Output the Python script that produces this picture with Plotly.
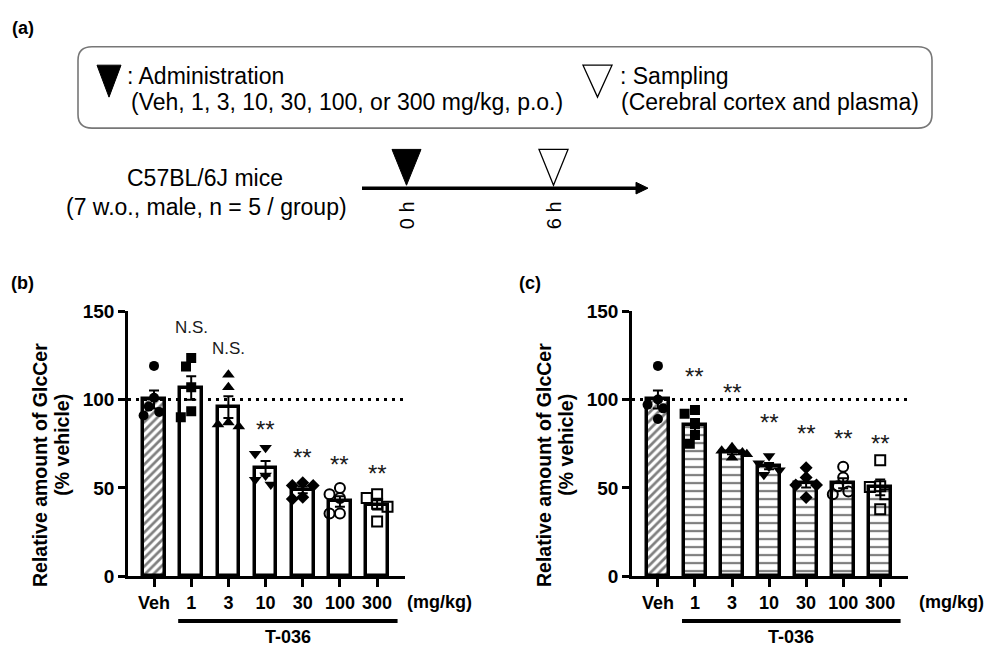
import numpy as np
import plotly.graph_objects as go

# ---------------- data ----------------
doses = ["Veh", "1", "3", "10", "30", "100", "300"]
b_values = [
    [119, 101, 96, 93, 91],
    [123.5, 118.6, 107, 90, 93.4],
    [114, 107, 84.7, 87, 85.8],
    [69.4, 72.7, 51.9, 54.6, 57],
    [51.4, 53, 51.4, 43.7, 44.8],
    [50, 46.4, 44.3, 35.5, 35.5],
    [46.4, 44.3, 41, 39.3, 31],
]
c_values = [
    [119, 100, 97, 95, 89],
    [94, 92, 86, 80, 75],
    [73, 71, 70, 69, 67],
    [68, 64, 62, 60, 57.5],
    [61.4, 55.9, 51.6, 51.6, 44.6],
    [62, 55.9, 51, 48, 46.4],
    [65.6, 51, 50.5, 46.4, 38],
]
b_labels = ["", "N.S.", "N.S.", "**", "**", "**", "**"]
c_labels = ["", "**", "**", "**", "**", "**", "**"]
b_label_y = [0, 141, 129, 83, 67, 63, 58]
c_label_y = [0, 113, 104, 87, 81, 78, 75]
symbols = ["circle", "square", "triangle-up", "triangle-down", "diamond",
           "circle-open", "square-open"]

W, H = 985, 659
FONT = "Liberation Sans, Arial, sans-serif"


def px(x):
    return x / W


def py(y):
    return 1 - y / H


def swarm(vals, xu=37.2, yu=1.83, d=9.5):
    vals = list(vals)
    order = np.argsort(-np.array(vals))
    placed, offs = [], [0.0] * len(vals)
    cands = [0, -0.14, 0.14, -0.28, 0.28, -0.4, 0.4]
    for i in order:
        chosen = cands[-1]
        for c in cands:
            if all(((c - pc) * xu) ** 2 + ((vals[i] - pv) * yu) ** 2 >= d * d
                   for pc, pv in placed):
                chosen = c
                break
        offs[i] = chosen
        placed.append((chosen, vals[i]))
    return offs


fig = go.Figure()

panels = [
    ("x", "y", b_values, b_labels, b_label_y, ["/"] + [""] * 6),
    ("x2", "y2", c_values, c_labels, c_label_y, ["/"] + ["-"] * 6),
]

for xa, ya, vals, labels, label_y, shapes in panels:
    means = [float(np.mean(v)) for v in vals]
    sems = [float(np.std(v, ddof=1) / np.sqrt(len(v))) for v in vals]
    fig.add_trace(go.Bar(
        x=list(range(len(doses))), y=means, width=0.58,
        marker=dict(color="white", line=dict(color="black", width=3.5),
                    pattern=dict(shape=shapes, fgcolor="black", bgcolor="white",
                                 size=[6] + [8] * 6, solidity=[0.45] + [0.28] * 6,
                                 fillmode="overlay")),
        error_y=dict(type="data", array=sems, color="black", thickness=2, width=5),
        xaxis=xa, yaxis=ya, showlegend=False, hoverinfo="skip"))
    for i, v in enumerate(vals):
        offs = swarm(v)
        sym = symbols[i]
        is_open = sym.endswith("open")
        fig.add_trace(go.Scatter(
            x=[i + o for o in offs], y=v, mode="markers",
            marker=dict(symbol=sym, size=10 if "triangle" not in sym else 11,
                        color="black",
                        line=dict(color="black", width=2 if is_open else 0)),
            xaxis=xa, yaxis=ya, showlegend=False, hoverinfo="skip"))
    for i, lab in enumerate(labels):
        if lab:
            fig.add_annotation(x=i, y=label_y[i], xref=xa, yref=ya, text=lab,
                               showarrow=False, yanchor="middle",
                               font=dict(family=FONT, size=24 if lab == "**" else 17,
                                         color="#1a1a1a"))
    # dotted reference at 100
    fig.add_shape(type="line", xref=xa, yref=ya, x0=-0.7, x1=6.8, y0=100, y1=100,
                  line=dict(color="black", width=3, dash="3px,5px"))
    # T-036 bracket line
    fig.add_shape(type="line", xref=xa, yref="paper", x0=0.65, x1=6.55,
                  y0=py(631), y1=py(631), line=dict(color="black", width=4))
    fig.add_annotation(x=3.6, y=py(648), xref=xa, yref="paper", text="T-036",
                       showarrow=False, yanchor="middle",
                       font=dict(family=FONT, size=18, color="black", weight="bold"))

axis_common = dict(showgrid=False, zeroline=False, showline=True, linecolor="black",
                   linewidth=2.5, ticks="outside", tickcolor="black", tickwidth=2.5)

for name, dom in (("xaxis", [px(128), px(405)]), ("xaxis2", [px(632), px(908)])):
    fig.layout[name] = dict(axis_common, domain=dom, range=[-0.7, 6.75],
                            tickvals=list(range(len(doses))), ticktext=doses,
                            ticklen=8,
                            tickfont=dict(family=FONT, size=18, color="black",
                                          weight="bold"),
                            anchor="y" if name == "xaxis" else "y2")
for name in ("yaxis", "yaxis2"):
    fig.layout[name] = dict(axis_common, domain=[py(585), py(311)], range=[0, 150],
                            tickvals=[0, 50, 100, 150], ticklen=7,
                            tickfont=dict(family=FONT, size=19, color="black",
                                          weight="bold"),
                            anchor="x" if name == "yaxis" else "x2")

# paper annotations
def ann(x, y, text, size=23, bold=False, xanchor="center", angle=0):
    fig.add_annotation(x=px(x), y=py(y), xref="paper", yref="paper", text=text,
                       showarrow=False, xanchor=xanchor, yanchor="middle",
                       textangle=angle,
                       font=dict(family=FONT, size=size, color="black",
                                 weight="bold" if bold else "normal"))

ann(439, 612, "(mg/kg)", size=18, bold=True)
ann(951, 612, "(mg/kg)", size=18, bold=True)
ann(23, 19, "(a)", size=18, bold=True)
ann(22, 282, "(b)", size=18, bold=True)
ann(530, 282, "(c)", size=18, bold=True)
for x0 in (0, 504):
    ann(40 + x0, 470, "Relative amount of GlcCer", size=19.5, bold=True, angle=-90)
    ann(62 + x0, 449, "(% vehicle)", size=19.5, bold=True, angle=-90)

# ---------------- panel (a) schematic ----------------
def rrect(x0, y0, x1, y1, r):
    rx, ry = r / W, r / H
    X0, X1, Y0, Y1 = px(x0), px(x1), py(y0), py(y1)
    return (f"M {X0+rx},{Y0} L {X1-rx},{Y0} Q {X1},{Y0} {X1},{Y0-ry} "
            f"L {X1},{Y1+ry} Q {X1},{Y1} {X1-rx},{Y1} L {X0+rx},{Y1} "
            f"Q {X0},{Y1} {X0},{Y1+ry} L {X0},{Y0-ry} Q {X0},{Y0} {X0+rx},{Y0} Z")


def tri(x0, x1, ytop, ybot):
    return (f"M {px(x0)},{py(ytop)} L {px(x1)},{py(ytop)} "
            f"L {px((x0+x1)/2)},{py(ybot)} Z")

fig.add_shape(type="path", xref="paper", yref="paper", path=rrect(78, 38, 932, 122, 14),
              line=dict(color="#777", width=1.6), fillcolor="rgba(0,0,0,0)")
fig.add_shape(type="path", xref="paper", yref="paper", path=tri(97, 121, 57, 90),
              line=dict(color="black", width=1), fillcolor="black")
fig.add_shape(type="path", xref="paper", yref="paper", path=tri(583, 612, 57, 90),
              line=dict(color="black", width=1.3), fillcolor="white")
ann(125, 68, ": Administration", xanchor="left")
ann(129, 95, "(Veh, 1, 3, 10, 30, 100, or 300 mg/kg, p.o.)", xanchor="left")
ann(618, 68, ": Sampling", xanchor="left")
ann(619, 95, "(Cerebral cortex and plasma)", xanchor="left")

# timeline
fig.add_shape(type="line", xref="paper", yref="paper", x0=px(362), x1=px(640),
              y0=py(184), y1=py(184), line=dict(color="black", width=3.5))
fig.add_shape(type="path", xref="paper", yref="paper",
              path=f"M {px(636)},{py(178)} L {px(648)},{py(184)} L {px(636)},{py(190)} Z",
              line=dict(color="black", width=1), fillcolor="black")
fig.add_shape(type="path", xref="paper", yref="paper", path=tri(392, 421, 144, 181),
              line=dict(color="black", width=1), fillcolor="black")
fig.add_shape(type="path", xref="paper", yref="paper", path=tri(539, 568, 144, 181),
              line=dict(color="black", width=1.3), fillcolor="white")
ann(407, 212, "0 h", size=20, angle=-90)
ann(554, 212, "6 h", size=20, angle=-90)
ann(205, 174, "C57BL/6J mice")
ann(206, 204, "(7 w.o., male, n = 5 / group)")

fig.update_layout(width=W, height=H, margin=dict(l=0, r=0, t=0, b=0),
                  paper_bgcolor="white", plot_bgcolor="white", bargap=0,
                  font=dict(family=FONT, color="black"))

fig.write_html("out.html", config={"displayModeBar": False},
               post_script="document.body.style.margin='0px';"
                           "document.body.style.overflow='hidden';")
